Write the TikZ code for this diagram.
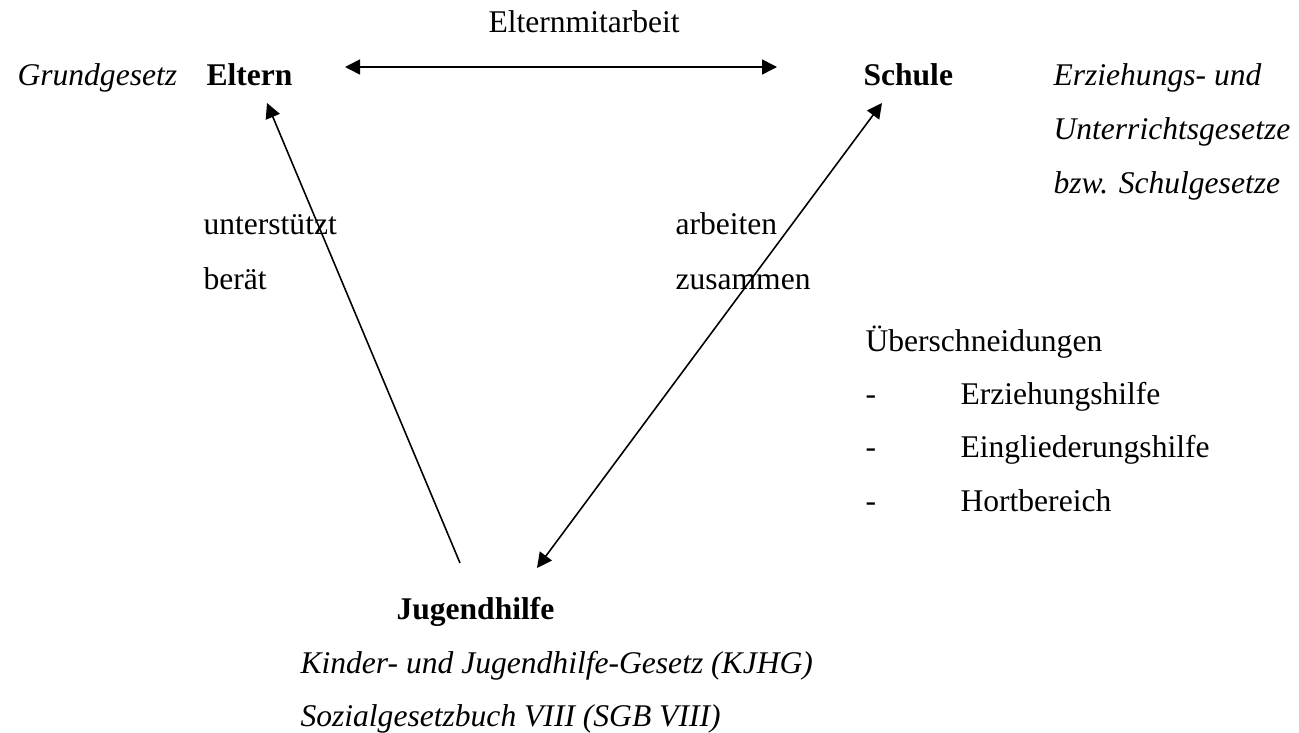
\documentclass[tikz,border=0pt]{standalone}
\usepackage{fontspec}
\setmainfont{Liberation Serif}
\usetikzlibrary{arrows.meta}

\begin{document}
\begin{tikzpicture}[x=0.38pt, y=-0.38pt,
    main/.style={anchor=base west, inner sep=0pt, font=\fontsize{12}{14}\selectfont},
    law/.style={main, font=\fontsize{12}{14}\selectfont\itshape},
    inst/.style={main, font=\fontsize{12}{14}\selectfont\bfseries},
    link/.style={line width=0.6pt, -{Triangle[length=5.7pt, width=5.7pt]}},
    both/.style={line width=0.6pt, {Triangle[length=5.7pt, width=5.7pt]}-{Triangle[length=5.7pt, width=5.7pt]}}]
    \useasboundingbox (0,0) rectangle (1299,733);

    \node[inst] (1) at (206,86) {Eltern};
    \node[inst] (2) at (863,86) {Schule};
    \node[inst] (3) at (396,619) {Jugendhilfe};

    \node[law] (4) at (17,86) {Grundgesetz};
    \node[law] (5) at (1053,86) {Erziehungs- und};
    \node[law] (6) at (1053,140) {Unterrichtsgesetze};
    \node[law] (7) at (1053,194) {bzw. Schulgesetze};
    \node[law] (8) at (300,673) {Kinder- und Jugendhilfe-Gesetz (KJHG)};
    \node[law] (9) at (300,726) {Sozialgesetzbuch VIII (SGB VIII)};

    \node[main] (10) at (488,33) {Elternmitarbeit};
    \node[main] (11) at (203,235) {unterstützt};
    \node[main] (12) at (203,290) {berät};
    \node[main] (13) at (675,235) {arbeiten};
    \node[main] (14) at (675,290) {zusammen};
    \node[main] (15) at (865,352) {Überschneidungen};
    \node[main] (16) at (865,405) {-};
    \node[main] (17) at (960,405) {Erziehungshilfe};
    \node[main] (18) at (865,458) {-};
    \node[main] (19) at (960,458) {Eingliederungshilfe};
    \node[main] (20) at (865,511) {-};
    \node[main] (21) at (960,511) {Hortbereich};

    \coordinate (a) at (345,67);
    \coordinate (b) at (777,67);
    \coordinate (c) at (460,563);
    \coordinate (d) at (267,103);
    \coordinate (e) at (537,568);
    \coordinate (f) at (882,103);

    \draw[both] (a) -- (b);
    \draw[link] (c) -- (d);
    \draw[both] (e) -- (f);
\end{tikzpicture}
\end{document}
